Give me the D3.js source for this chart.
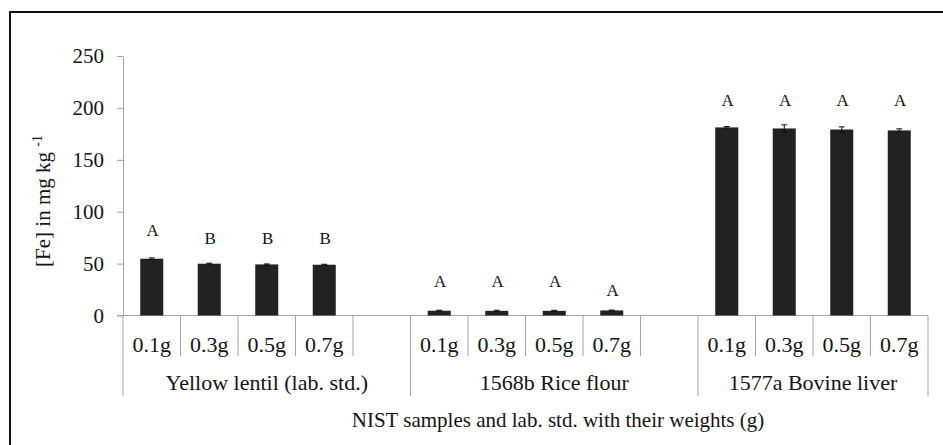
<!DOCTYPE html>
<html>
<head>
<meta charset="utf-8">
<script src="https://cdn.jsdelivr.net/npm/d3@7"></script>
<style>
  html, body { margin: 0; padding: 0; background: #fff; }
  svg { display: block; }
  svg text { font-family: "Liberation Serif", "DejaVu Serif", serif; fill: #141414; }
</style>
</head>
<body>
<svg id="chart" width="943" height="445"></svg>
<script>
// Sample groups and the weighed amounts of each
const groups = ["Yellow lentil (lab. std.)", "1568b Rice flour", "1577a Bovine liver"];
const weights = ["0.1g", "0.3g", "0.5g", "0.7g"];

// Mean Fe concentration (mg/kg) per group, one value per weight
const lentilFe = [54.7, 49.9, 49.2, 48.9];
const riceFe = [4.6, 4.5, 4.5, 4.9];
const liverFe = [181.2, 180.2, 179.2, 178.3];

// Standard deviations
const lentilSd = [0.8, 0.5, 0.5, 0.5];
const riceSd = [0.5, 0.6, 0.5, 0.3];
const liverSd = [0.8, 3.5, 2.5, 1.5];

// Significance letters and the level (mg/kg) at which each is written
const lentilLetters = ["A", "B", "B", "B"];
const riceLetters = ["A", "A", "A", "A"];
const liverLetters = ["A", "A", "A", "A"];
const lentilLetterLevel = [77, 68.5, 68.5, 68.5];
const riceLetterLevel = [27.3, 27.3, 27.3, 18.6];
const liverLetterLevel = [201.7, 201.7, 201.7, 201.7];

const yTicks = [0, 50, 100, 150, 200, 250];

const yLabel = "[Fe] in mg kg";
const yLabelSup = "-1";
const xTitle = "NIST samples and lab. std. with their weights (g)";

const serif = "'Liberation Serif', 'DejaVu Serif', serif";

// ---- assemble rows ----
const feByGroup = [lentilFe, riceFe, liverFe];
const sdByGroup = [lentilSd, riceSd, liverSd];
const lettersByGroup = [lentilLetters, riceLetters, liverLetters];
const levelByGroup = [lentilLetterLevel, riceLetterLevel, liverLetterLevel];

const rows = [];
const slots = [];
const groupSpans = [];
groups.forEach((g, gi) => {
  const start = slots.length;
  weights.forEach((w, wi) => {
    const key = g + "|" + w;
    slots.push(key);
    rows.push({
      key, group: g, weight: w,
      value: feByGroup[gi][wi],
      sd: sdByGroup[gi][wi],
      letter: lettersByGroup[gi][wi],
      level: levelByGroup[gi][wi]
    });
  });
  if (gi < groups.length - 1) slots.push("gap" + gi);
  groupSpans.push({ name: g, first: slots[start], last: slots[slots.length - 1] });
});

// ---- layout ----
const svg = d3.select("#chart").attr("font-family", serif);
const plotLeft = 123, plotRight = 928, plotTop = 56, plotBase = 315.5;

const x = d3.scaleBand().domain(slots).range([plotLeft, plotRight]).padding(0);
const y = d3.scaleLinear().domain([0, 250]).range([plotBase, plotTop]);
const bw = x.bandwidth();
const axisColor = "#a3a3a3";

// outer frame
svg.append("rect")
  .attr("x", 10).attr("y", 12)
  .attr("width", 960).attr("height", 460)
  .attr("fill", "none").attr("stroke", "#111").attr("stroke-width", 2);

// y axis
const yAxis = svg.append("g")
  .attr("transform", `translate(${plotLeft},0)`)
  .call(d3.axisLeft(y).tickValues(yTicks).tickSize(6).tickSizeOuter(0).tickPadding(13));
yAxis.attr("font-family", serif).attr("font-size", 21);
yAxis.select(".domain").attr("stroke", axisColor);
yAxis.selectAll(".tick line").attr("stroke", axisColor);

// x axis baseline
svg.append("line")
  .attr("x1", plotLeft - 6).attr("x2", plotRight)
  .attr("y1", y(0)).attr("y2", y(0))
  .attr("stroke", axisColor);

// category cell dividers
const bounds = slots.map(s => x(s)).concat([plotRight]);
const groupBounds = new Set([x(groupSpans[0].first)]
  .concat(groupSpans.map(gs => x(gs.last) + bw)));
svg.append("g").selectAll("line")
  .data(bounds)
  .join("line")
  .attr("x1", d => d).attr("x2", d => d)
  .attr("y1", y(0))
  .attr("y2", d => groupBounds.has(d) ? 396 : 356)
  .attr("stroke", axisColor);

// weight labels under each bar
svg.append("g").selectAll("text")
  .data(rows)
  .join("text")
  .attr("x", d => x(d.key) + bw / 2)
  .attr("y", 352)
  .attr("text-anchor", "middle")
  .attr("font-size", 22)
  .text(d => d.weight);

// group labels
svg.append("g").selectAll("text")
  .data(groupSpans)
  .join("text")
  .attr("x", d => (x(d.first) + x(d.last) + bw) / 2)
  .attr("y", 390)
  .attr("text-anchor", "middle")
  .attr("font-size", 22)
  .text(d => d.name);

// bars
const barW = bw * 0.4;
svg.append("g").selectAll("rect")
  .data(rows)
  .join("rect")
  .attr("x", d => x(d.key) + (bw - barW) / 2)
  .attr("y", d => y(d.value))
  .attr("width", barW)
  .attr("height", d => y(0) - y(d.value))
  .attr("fill", "#222");

// error bars
const eb = svg.append("g").attr("stroke", "#111").attr("stroke-width", 1);
rows.forEach(d => {
  const cx = x(d.key) + bw / 2;
  eb.append("line").attr("x1", cx).attr("x2", cx)
    .attr("y1", y(d.value + d.sd)).attr("y2", y(d.value - d.sd));
  [d.value + d.sd, d.value - d.sd].forEach(v => {
    eb.append("line").attr("x1", cx - 3).attr("x2", cx + 3)
      .attr("y1", y(v)).attr("y2", y(v));
  });
});

// significance letters
svg.append("g").selectAll("text")
  .data(rows)
  .join("text")
  .attr("x", d => x(d.key) + bw / 2 + 1)
  .attr("y", d => y(d.level))
  .attr("text-anchor", "middle")
  .attr("font-size", 17)
  .text(d => d.letter);

// y axis title
const yt = svg.append("text")
  .attr("transform", "translate(50,201) rotate(-90)")
  .attr("text-anchor", "middle")
  .attr("font-size", 21);
yt.append("tspan").text(yLabel + " ");
yt.append("tspan").attr("font-size", 14).attr("dy", -8).text(yLabelSup);

// x axis title
svg.append("text")
  .attr("x", 558).attr("y", 427)
  .attr("text-anchor", "middle")
  .attr("font-size", 21)
  .text(xTitle);
</script>
</body>
</html>
